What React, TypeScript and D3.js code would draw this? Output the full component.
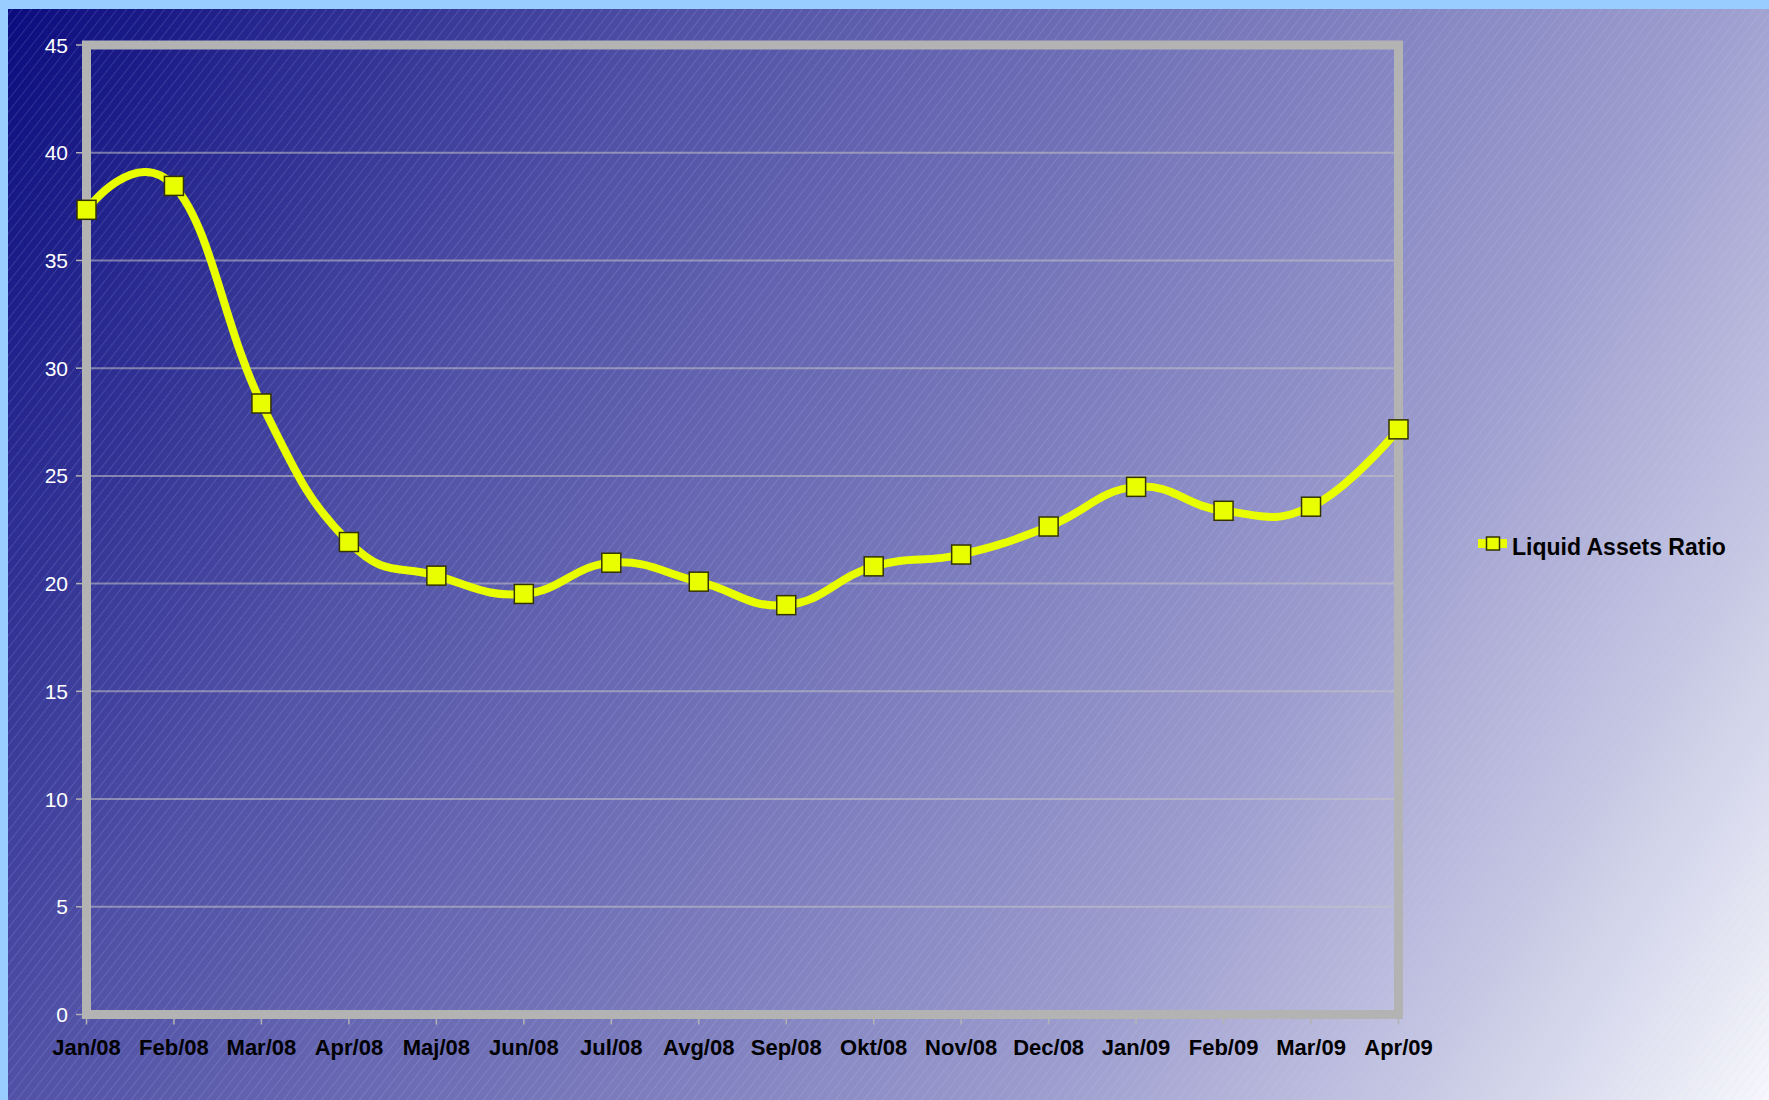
import React from "react";
import * as d3 from "d3";

const months = [
  "Jan/08", "Feb/08", "Mar/08", "Apr/08", "Maj/08", "Jun/08", "Jul/08", "Avg/08",
  "Sep/08", "Okt/08", "Nov/08", "Dec/08", "Jan/09", "Feb/09", "Mar/09", "Apr/09",
];
const liquidAssets = [
  37.35, 38.46, 28.36, 21.93, 20.37, 19.52, 20.97, 20.09,
  19.0, 20.8, 21.35, 22.65, 24.49, 23.38, 23.57, 27.16,
];
const yTicks = [0, 5, 10, 15, 20, 25, 30, 35, 40, 45];
const seriesName = "Liquid Assets Ratio";

const W = 1769;
const H = 1100;
const plot = { left: 86.5, right: 1398.5, top: 45, bottom: 1014.5 };
const yellow = "#E9FF00";

export default function App() {
  const x = d3.scalePoint<string>().domain(months).range([plot.left, plot.right]);
  const y = d3.scaleLinear().domain([0, 45]).range([plot.bottom, plot.top]);

  const line = d3
    .line<number>()
    .x((_, i) => x(months[i]) as number)
    .y(d => y(d))
    .curve(d3.curveCardinal.tension(-0.3));

  const ms = 19; // marker size

  return (
    <svg
      width={W}
      height={H}
      style={{ position: "fixed", left: 0, top: 0, display: "block" }}
      fontFamily="'Liberation Sans', Arial, sans-serif"
    >
      <defs>
        <linearGradient id="bg" gradientUnits="userSpaceOnUse" x1={0} y1={0} x2={W} y2={H}>
          <stop offset="0" stopColor="#0A0A7E" />
          <stop offset="0.28" stopColor="#5050A6" />
          <stop offset="0.5" stopColor="#7676BA" />
          <stop offset="0.7" stopColor="#9C9CCE" />
          <stop offset="0.85" stopColor="#C6C6E3" />
          <stop offset="1" stopColor="#F7F7FC" />
        </linearGradient>
        <pattern
          id="hatch"
          patternUnits="userSpaceOnUse"
          width={7.5}
          height={40}
          patternTransform="rotate(38)"
        >
          <line x1={0} y1={0} x2={0} y2={40} stroke="#B8D8FF" strokeOpacity={0.35} strokeWidth={0.9} />
        </pattern>
      </defs>

      {/* page background */}
      <rect x={0} y={0} width={W} height={H} fill="#99CCFF" />
      <rect x={8} y={9} width={W - 8} height={H - 9} fill="url(#bg)" />
      <rect x={8} y={9} width={W - 8} height={H - 9} fill="url(#hatch)" />

      {/* gridlines */}
      {yTicks.slice(1, -1).map(t => (
        <line
          key={t}
          x1={plot.left}
          x2={plot.right}
          y1={y(t)}
          y2={y(t)}
          stroke="#C4C4C4"
          strokeOpacity={0.55}
          strokeWidth={2}
        />
      ))}

      {/* frame */}
      <rect
        x={plot.left}
        y={plot.top}
        width={plot.right - plot.left}
        height={plot.bottom - plot.top}
        fill="none"
        stroke="#B3B3B3"
        strokeWidth={9}
      />

      {/* y axis */}
      {yTicks.map(t => (
        <g key={t}>
          <line x1={76} x2={82} y1={y(t)} y2={y(t)} stroke="#B3B3B3" strokeWidth={1.5} />
          <text x={68} y={y(t)} dy="0.36em" textAnchor="end" fontSize={21} fill="#FFFFFF">
            {t}
          </text>
        </g>
      ))}

      {/* x axis */}
      {months.map(m => (
        <g key={m}>
          <line
            x1={x(m)}
            x2={x(m)}
            y1={plot.bottom + 4.5}
            y2={plot.bottom + 10}
            stroke="#B3B3B3"
            strokeWidth={1.5}
          />
          <text
            x={x(m)}
            y={1047}
            dy="0.36em"
            textAnchor="middle"
            fontSize={22}
            fontWeight="bold"
            fill="#000000"
          >
            {m}
          </text>
        </g>
      ))}

      {/* series */}
      <path d={line(liquidAssets) ?? ""} fill="none" stroke={yellow} strokeWidth={8} strokeLinejoin="round" />
      {liquidAssets.map((v, i) => (
        <rect
          key={i}
          x={(x(months[i]) as number) - ms / 2}
          y={y(v) - ms / 2}
          width={ms}
          height={ms}
          fill={yellow}
          stroke="#333300"
          strokeWidth={1.5}
        />
      ))}

      {/* legend */}
      <g>
        <line x1={1478} x2={1507} y1={543.5} y2={543.5} stroke={yellow} strokeWidth={9} />
        <rect x={1486.5} y={537} width={13} height={13} fill={yellow} stroke="#333300" strokeWidth={1.5} />
        <text x={1512} y={546.5} dy="0.36em" fontSize={23} fontWeight="bold" fill="#000000">
          {seriesName}
        </text>
      </g>
    </svg>
  );
}
